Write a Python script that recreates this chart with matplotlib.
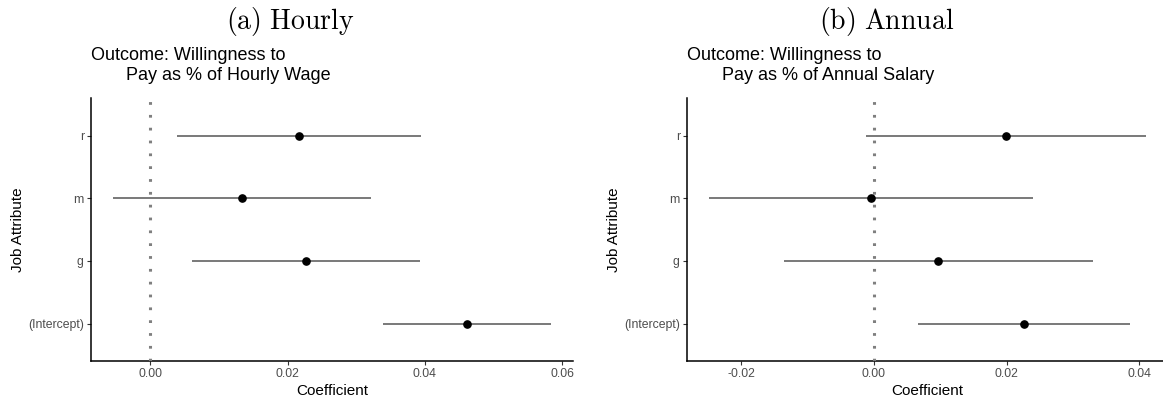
import matplotlib
matplotlib.use("Agg")
import matplotlib.pyplot as plt

plt.rcParams["font.family"] = ["Liberation Sans", "DejaVu Sans"]
plt.rcParams["mathtext.fontset"] = "cm"

# Job attributes, bottom to top
terms = ["(Intercept)", "g", "m", "r"]

# Hourly-wage model: point estimates and 95% interval bounds
hourly_est = [0.04615, 0.02270, 0.01332, 0.02162]
hourly_lo = [0.03391, 0.00604, -0.00544, 0.00383]
hourly_hi = [0.05838, 0.03935, 0.03208, 0.03941]

# Annual-salary model
annual_est = [0.02260, 0.00964, -0.00045, 0.01990]
annual_lo = [0.00662, -0.01357, -0.02489, -0.00123]
annual_hi = [0.03863, 0.03302, 0.02400, 0.04105]

hourly_ticks = [0.00, 0.02, 0.04, 0.06]
annual_ticks = [-0.02, 0.00, 0.02, 0.04]

W, H = 1163, 398
fig = plt.figure(figsize=(W / 100, H / 100), dpi=100)

TICK_GREY = "#4D4D4D"


def coef_panel(ax, est, lo, hi, ticks, title):
    ypos = list(range(1, len(terms) + 1))
    ax.axvline(0, color="#7F7F7F", lw=2.2, ls=(0, (0.9, 3.3)), zorder=3)
    ax.hlines(ypos, lo, hi, color="#555555", lw=1.1, zorder=2)
    ax.plot(est, ypos, "o", color="black", ms=5.2, zorder=4)

    span = max(hi) - min(lo)
    ax.set_xlim(min(lo) - 0.05 * span, max(hi) + 0.05 * span)
    ax.set_ylim(0.4, len(terms) + 0.6)

    ax.set_yticks(ypos)
    ax.set_yticklabels(terms)
    ax.set_xticks(ticks)
    ax.set_xticklabels([f"{t:.2f}" for t in ticks])

    for side in ("top", "right"):
        ax.spines[side].set_visible(False)
    for side in ("left", "bottom"):
        ax.spines[side].set_linewidth(1.1)
        ax.spines[side].set_color("black")
    ax.tick_params(axis="both", length=3.2, width=0.8, color="#333333",
                   labelcolor=TICK_GREY, labelsize=8.8, pad=2)

    ax.set_xlabel("Coefficient", fontsize=11, labelpad=3)
    ax.set_ylabel("Job Attribute", fontsize=11, labelpad=2)
    ax.set_title(title, loc="left", fontsize=13, pad=13, linespacing=1.25)


bottom = (H - 361) / H
height = (361 - 98.5) / H

ax1 = fig.add_axes([91 / W, bottom, 482 / W, height])
coef_panel(ax1, hourly_est, hourly_lo, hourly_hi, hourly_ticks,
           "Outcome: Willingness to\n       Pay as % of Hourly Wage")

ax2 = fig.add_axes([687 / W, bottom, 481 / W, height])
coef_panel(ax2, annual_est, annual_lo, annual_hi, annual_ticks,
           "Outcome: Willingness to\n       Pay as % of Annual Salary")

fig.text(290 / W, 1 - 21 / H, r"$\mathrm{(a)\ Hourly}$", ha="center", va="center",
         fontsize=20)
fig.text(887 / W, 1 - 21 / H, r"$\mathrm{(b)\ Annual}$", ha="center", va="center",
         fontsize=20)

fig.savefig("out.png", dpi=100, facecolor="white")
